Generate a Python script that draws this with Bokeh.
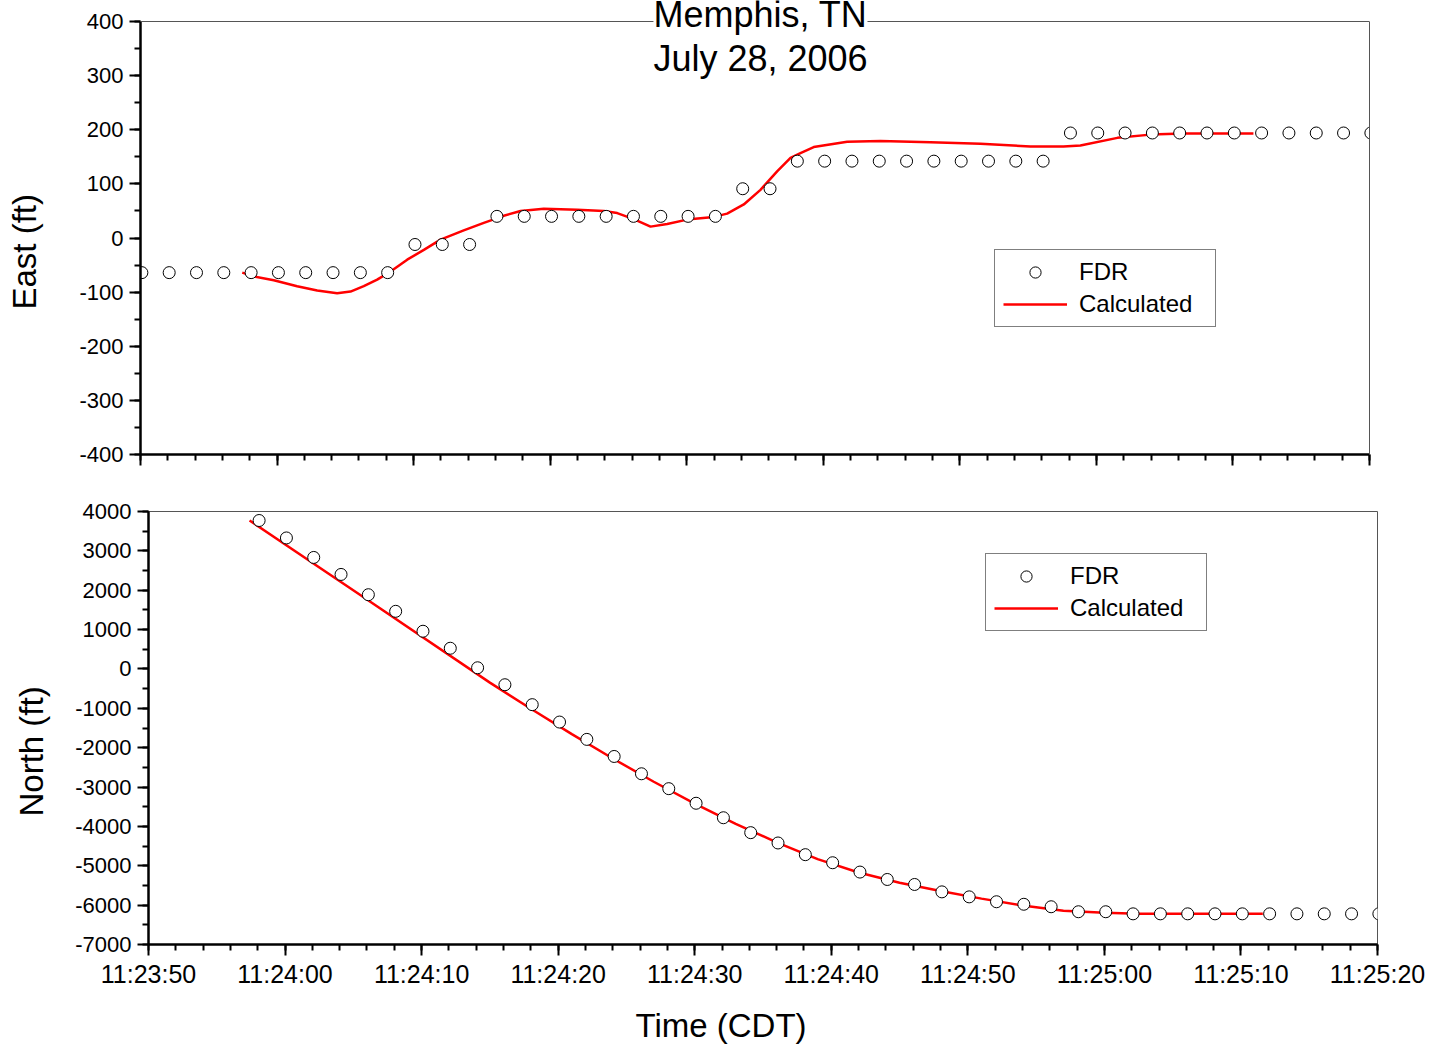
from bokeh.plotting import figure
from bokeh.models import Range1d, FixedTicker, Label, Legend, LegendItem, Title, LinearAxis, Span
from bokeh.embed import file_html
from bokeh.resources import INLINE

FONT = "Liberation Sans"

# ---- axis ticks (seconds after 11:23:50 CDT) ----
tick_seconds = [0, 10, 20, 30, 40, 50, 60, 70, 80, 90]
tick_labels = ["11:23:50", "11:24:00", "11:24:10", "11:24:20", "11:24:30",
               "11:24:40", "11:24:50", "11:25:00", "11:25:10", "11:25:20"]
minor_seconds = [0, 2, 4, 6, 8, 10, 12, 14, 16, 18, 20, 22, 24, 26, 28, 30, 32, 34, 36, 38,
                 40, 42, 44, 46, 48, 50, 52, 54, 56, 58, 60, 62, 64, 66, 68, 70, 72, 74, 76,
                 78, 80, 82, 84, 86, 88, 90]
east_ticks = [-400, -300, -200, -100, 0, 100, 200, 300, 400]
east_tick_labels = ["-400", "-300", "-200", "-100", "0", "100", "200", "300", "400"]
east_minor = [-400, -350, -300, -250, -200, -150, -100, -50, 0, 50, 100, 150, 200, 250, 300, 350, 400]
north_ticks = [-7000, -6000, -5000, -4000, -3000, -2000, -1000, 0, 1000, 2000, 3000, 4000]
north_tick_labels = ["-7000", "-6000", "-5000", "-4000", "-3000", "-2000", "-1000", "0",
                     "1000", "2000", "3000", "4000"]
north_minor = [-7000, -6500, -6000, -5500, -5000, -4500, -4000, -3500, -3000, -2500, -2000, -1500,
               -1000, -500, 0, 500, 1000, 1500, 2000, 2500, 3000, 3500, 4000]

# ---- FDR East (ft) ----
east_fdr_t = [0.1, 2.1, 4.1, 6.1, 8.1, 10.1, 12.1, 14.1, 16.1, 18.1, 20.1, 22.1, 24.1, 26.1, 28.1,
              30.1, 32.1, 34.1, 36.1, 38.1, 40.1, 42.1, 44.1, 46.1, 48.1, 50.1, 52.1, 54.1, 56.1,
              58.1, 60.1, 62.1, 64.1, 66.1, 68.1, 70.1, 72.1, 74.1, 76.1, 78.1, 80.1, 82.1, 84.1,
              86.1, 88.1, 90.1]
east_fdr = [-64, -64, -64, -64, -64, -64, -64, -64, -64, -64,
            -12, -12, -12,
            40, 40, 40, 40, 40, 40, 40, 40, 40,
            91, 91,
            142, 142, 142, 142, 142, 142, 142, 142, 142, 142,
            194, 194, 194, 194, 194, 194, 194, 194, 194, 194, 194, 194]

# ---- Calculated East (ft) ----
calc_east_t = [7.45, 8.30, 9.76, 11.47, 12.94, 14.40, 15.38, 16.35, 17.33, 18.31, 19.53, 20.75,
               21.97, 23.67, 25.14, 26.60, 27.83, 29.53, 31.98, 33.93, 34.91, 36.12, 37.35,
               38.57, 40.03, 41.98, 42.96, 44.18, 45.40, 46.62, 47.60, 48.33, 49.30, 51.75,
               54.19, 57.85, 61.51, 65.17, 67.59, 68.83, 71.54, 73.96, 76.38, 81.50]
calc_east = [-64, -71, -78, -89, -97, -102, -99, -89, -77, -62, -40, -22,
             -3, 14, 28, 41, 50, 54, 52, 50, 46, 35, 21,
             26, 34, 39, 45, 62, 89, 123, 148, 157, 168, 178,
             179, 177, 174, 169, 169, 171, 185, 191, 193, 193]

# ---- FDR North (ft) ----
north_fdr_t = [8.1, 10.1, 12.1, 14.1, 16.1, 18.1, 20.1, 22.1, 24.1, 26.1, 28.1, 30.1, 32.1, 34.1,
               36.1, 38.1, 40.1, 42.1, 44.1, 46.1, 48.1, 50.1, 52.1, 54.1, 56.1, 58.1, 60.1, 62.1,
               64.1, 66.1, 68.1, 70.1, 72.1, 74.1, 76.1, 78.1, 80.1, 82.1, 84.1, 86.1, 88.1, 90.1]
north_fdr = [3771, 3328, 2833, 2401, 1886, 1464, 958, 526, 30, -401, -907, -1349, -1789, -2223,
             -2663, -3041, -3412, -3780, -4159, -4421, -4718, -4923, -5160, -5348, -5475, -5663,
             -5790, -5914, -5978, -6041, -6168, -6168, -6221, -6221, -6221, -6221, -6221, -6221,
             -6221, -6221, -6221, -6221]

# ---- Calculated North (ft) ----
calc_north_t = [7.4, 16.0, 25.0, 28.0, 31.0, 34.0, 37.0, 40.0, 43.0, 46.0, 49.0, 52.0, 55.0,
                58.0, 61.0, 64.0, 67.0, 70.0, 72.5, 81.6]
calc_north = [3773, 1766, -348, -1010, -1655, -2275, -2865, -3420, -3935, -4405, -4830, -5170,
              -5430, -5640, -5835, -6010, -6140, -6195, -6221, -6221]


def make_fig(h, left, right, top, bottom, yr):
    p = figure(width=1429, height=h, x_range=Range1d(0, 90), y_range=Range1d(*yr),
               output_backend="svg", toolbar_location=None, title=None,
               min_border_left=left, min_border_right=right,
               min_border_top=top, min_border_bottom=bottom)
    p.xgrid.visible = False
    p.ygrid.visible = False
    p.outline_line_color = "#555555"
    p.outline_line_width = 1
    p.background_fill_color = "white"
    p.border_fill_color = "white"
    for ax in (p.xaxis[0], p.yaxis[0]):
        ax.axis_line_width = 2.5
        ax.axis_line_color = "black"
        ax.major_tick_line_width = 2
        ax.minor_tick_line_width = 2
        ax.major_tick_out = 11
        ax.major_tick_in = 0
        ax.minor_tick_out = 6
        ax.minor_tick_in = 0
        ax.major_label_text_font = FONT
        ax.major_label_text_color = "black"
        ax.major_label_standoff = 6
    p.xaxis.ticker = FixedTicker(ticks=tick_seconds, minor_ticks=minor_seconds)
    p.xaxis.major_label_overrides = {float(s): l for s, l in zip(tick_seconds, tick_labels)}
    p.xaxis.major_label_text_font_size = "25px"
    p.xaxis.major_label_standoff = 4
    p.yaxis.major_label_text_font_size = "22px"
    return p


def add_spacer(p, side, size, at):
    # a blank axis (white tick, empty label) that only pushes the side title outward
    ax = LinearAxis(ticker=FixedTicker(ticks=[at], minor_ticks=[]), axis_line_color="white",
                    major_tick_line_color="white", minor_tick_line_color="white",
                    major_tick_out=size, major_tick_in=0, minor_tick_out=0, minor_tick_in=0,
                    major_label_standoff=0, major_label_text_font_size="1px")
    ax.major_label_overrides = {float(at): ""}
    p.add_layout(ax, side)


def add_title(p, text, side, offset):
    p.add_layout(Title(text=text, align="left", offset=offset, standoff=2,
                       text_font=FONT, text_font_size="33px", text_font_style="normal",
                       text_color="black"), side)


def add_series(p, ct, cv, ft, fv, loc):
    r_line = p.line(ct, cv, line_color="#ff0000", line_width=2.5)
    r_pts = p.scatter(ft, fv, marker="circle", size=12, fill_color="white",
                      line_color="black", line_width=1)
    legend = Legend(items=[LegendItem(label="FDR", renderers=[r_pts]),
                           LegendItem(label="Calculated", renderers=[r_line])],
                    location=loc)
    legend.label_text_font = FONT
    legend.label_text_font_size = "24px"
    legend.label_text_color = "black"
    legend.glyph_width = 64
    legend.glyph_height = 28
    legend.label_height = 28
    legend.label_width = 128
    legend.spacing = 4
    legend.padding = 8
    legend.margin = 0
    legend.label_standoff = 12
    legend.border_line_color = "black"
    legend.border_line_width = 1.5
    legend.background_fill_color = "white"
    legend.background_fill_alpha = 1
    p.add_layout(legend)


# ---- top: East ----
# frame reaches the page top so the title can sit across the frame's top line
top_pad = 21 * 800 / 433
p1 = make_fig(480, 140, 60, 0, 26, (-400, 400 + top_pad))
p1.outline_line_color = None
p1.yaxis.bounds = (-400, 400)
p1.yaxis.ticker = FixedTicker(ticks=east_ticks, minor_ticks=east_minor)
p1.yaxis.major_label_overrides = {float(v): l for v, l in zip(east_ticks, east_tick_labels)}
p1.xaxis.major_label_overrides = {float(s): "" for s in tick_seconds}
p1.xaxis.major_label_standoff = 0
add_spacer(p1, "left", 33, 420)
add_title(p1, "East (ft)", "left", 145)

right_ax = LinearAxis(ticker=FixedTicker(ticks=[]), bounds=(-400, 400),
                      axis_line_color="#555555", axis_line_width=1,
                      major_tick_line_color=None, minor_tick_line_color=None,
                      major_tick_out=0, minor_tick_out=0, major_label_standoff=0)
p1.add_layout(right_ax, "right")
p1.add_layout(Span(location=400, dimension="width", line_color="#555555", line_width=1))

add_series(p1, calc_east_t, calc_east, east_fdr_t, east_fdr, (854, 127))

p1.add_layout(Label(x=45.4, y=412.9, text="Memphis, TN", text_font=FONT, text_font_size="36px",
                    text_color="black", text_align="center", text_baseline="middle",
                    background_fill_color="white", background_fill_alpha=1))
p1.add_layout(Label(x=45.4, y=331.6, text="July 28, 2006", text_font=FONT, text_font_size="36px",
                    text_color="black", text_align="center", text_baseline="middle"))

# ---- bottom: North ----
p2 = make_fig(566, 148, 52, 31, 102, (-7000, 4000))
p2.yaxis.ticker = FixedTicker(ticks=north_ticks, minor_ticks=north_minor)
p2.yaxis.major_label_overrides = {float(v): l for v, l in zip(north_ticks, north_tick_labels)}
add_spacer(p2, "left", 22, 3900)
add_title(p2, "North (ft)", "left", 128)
add_spacer(p2, "below", 13, 89)
add_title(p2, "Time (CDT)", "below", 487)
add_series(p2, calc_north_t, calc_north, north_fdr_t, north_fdr, (837, 313))

open("out.html", "w").write(file_html([p1, p2], INLINE))
